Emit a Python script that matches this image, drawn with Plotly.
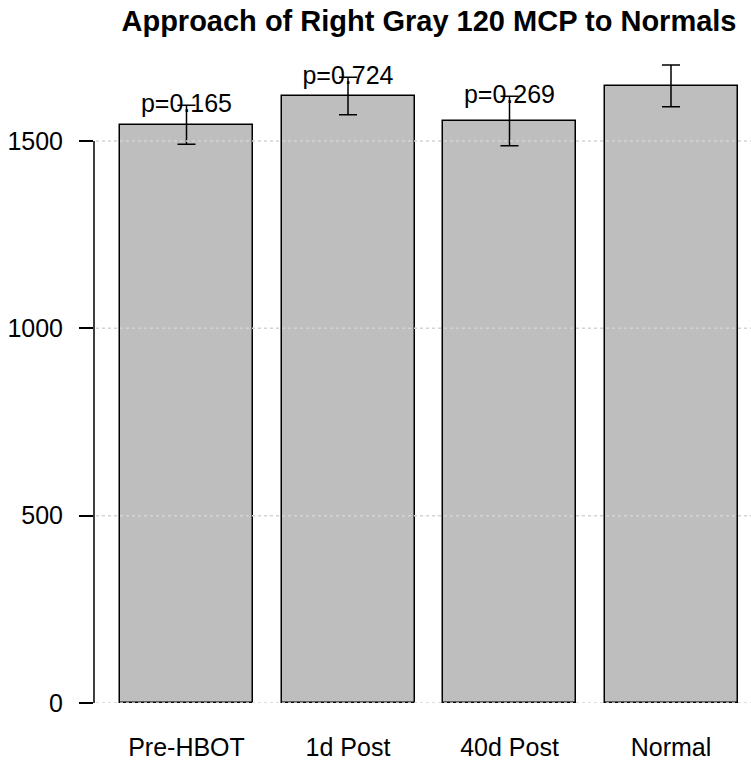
import plotly.graph_objects as go

categories = ["Pre-HBOT", "1d Post", "40d Post", "Normal"]
means = [1543, 1620, 1553, 1647]
errors = [52, 50, 66, 56]
p_labels = ["p=0.165", "p=0.724", "p=0.269", ""]
y_ticks = [0, 500, 1000, 1500]

FONT = "Liberation Sans, Arial, sans-serif"
W, H = 751, 762
ML, MR, MT, MB = 94, 0, 40, 59

xpos = list(range(len(categories)))

fig = go.Figure()
fig.add_trace(go.Bar(
    x=xpos, y=means, width=0.8235,
    marker=dict(color="#BEBEBE", line=dict(color="black", width=1.5)),
    error_y=dict(type="data", array=errors, visible=True, color="black",
                 thickness=1.5, width=9),
    showlegend=False, hoverinfo="skip",
))
lab_x = [x for x, t in zip(xpos, p_labels) if t]
lab_y = [m + e for m, e, t in zip(means, errors, p_labels) if t]
lab_t = [t for t in p_labels if t]
fig.add_trace(go.Scatter(
    x=lab_x, y=lab_y, text=lab_t, mode="text", textposition="middle center",
    textfont=dict(family=FONT, size=25, color="black"),
    showlegend=False, hoverinfo="skip", cliponaxis=False,
))

pw = W - ML - MR
shapes = []
for t in y_ticks:
    shapes.append(dict(type="line", xref="paper", yref="y",
                       x0=2 / pw, x1=1, y0=t, y1=t, layer="above",
                       line=dict(color="#D3D3D3", width=1.5, dash="dot")))
shapes.append(dict(type="line", xref="paper", yref="y",
                   x0=0, x1=0, y0=min(y_ticks), y1=max(y_ticks),
                   line=dict(color="black", width=1.5)))

fig.update_layout(
    width=W, height=H,
    margin=dict(l=ML, r=MR, t=MT, b=MB),
    paper_bgcolor="white", plot_bgcolor="white",
    font=dict(family=FONT, size=25, color="black"),
    title=dict(text="<b>Approach of Right Gray 120 MCP to Normals</b>",
               font=dict(family=FONT, size=29, color="black"),
               xref="paper", x=(429 - ML) / pw, xanchor="center",
               yref="container", y=1 - 21 / H, yanchor="middle"),
    shapes=shapes,
    bargap=0,
)
fig.update_xaxes(
    range=[(ML - 186.5) / 161.5, (W - MR - 186.5) / 161.5],
    tickvals=xpos, ticktext=categories, showgrid=False, zeroline=False,
    showline=False, ticks="", ticklabelstandoff=27,
    tickfont=dict(family=FONT, size=25),
)
fig.update_yaxes(
    range=[0, (H - MT - MB) / 0.3747],
    tickvals=y_ticks, ticktext=[str(t) for t in y_ticks],
    showgrid=False, zeroline=False, showline=False,
    ticks="outside", ticklen=14, tickwidth=1.5, tickcolor="black",
    ticklabelstandoff=11, tickfont=dict(family=FONT, size=25),
)

fig.write_html("out.html")
